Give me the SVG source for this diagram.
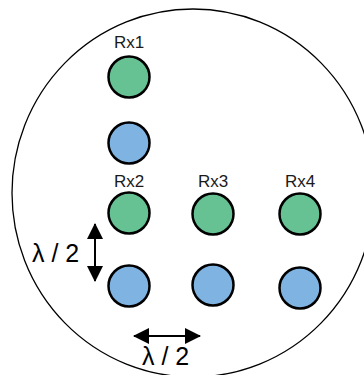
<svg xmlns="http://www.w3.org/2000/svg" width="364" height="375" viewBox="0 0 364 375">
<style>
.g{fill:#66c293;stroke:#000;stroke-width:2.5}
.b{fill:#7fb3e2;stroke:#000;stroke-width:2.5}
.lbl{font-family:"Liberation Sans",Arial,sans-serif;font-size:17px;fill:#1a1a1a;text-anchor:middle}
.lam{font-family:"Liberation Sans",Arial,sans-serif;font-size:25px;fill:#000}
.conn{stroke:#000;stroke-width:2;fill:none}
</style>
<defs>
<marker id="ah" viewBox="0 0 16 16" refX="15" refY="8" markerWidth="16" markerHeight="16" markerUnits="userSpaceOnUse" orient="auto-start-reverse">
<path d="M0,0 L16,8 L0,16 Z" fill="#000"/>
</marker>
</defs>
<rect width="364" height="375" fill="#fff"/>
<ellipse id="boundary" cx="193" cy="193" rx="181" ry="184" fill="none" stroke="#000" stroke-width="1.3"/>
<g id="rx1"><text class="lbl" x="129" y="48">Rx1</text><circle class="g" cx="129" cy="77" r="20.5"/></g>
<g id="rx1b"><circle class="b" cx="129" cy="143" r="20.5"/></g>
<g id="rx2"><text class="lbl" x="129" y="187">Rx2</text><circle class="g" cx="129" cy="213" r="20.5"/></g>
<g id="rx2b"><circle class="b" cx="129" cy="286" r="20.5"/></g>
<g id="rx3"><text class="lbl" x="213" y="187">Rx3</text><circle class="g" cx="213" cy="214" r="20.5"/></g>
<g id="rx3b"><circle class="b" cx="213" cy="285" r="20.5"/></g>
<g id="rx4"><text class="lbl" x="300" y="187">Rx4</text><circle class="g" cx="300" cy="214" r="20.5"/></g>
<g id="rx4b"><circle class="b" cx="300" cy="288" r="20.5"/></g>
<g id="connectors">
<line class="conn" x1="95" y1="224" x2="95" y2="281" marker-start="url(#ah)" marker-end="url(#ah)"/>
<line class="conn" x1="134" y1="336" x2="200" y2="336" marker-start="url(#ah)" marker-end="url(#ah)"/>
</g>
<text class="lam" x="32" y="262">λ / 2</text>
<text class="lam" x="142" y="365">λ / 2</text>
</svg>
